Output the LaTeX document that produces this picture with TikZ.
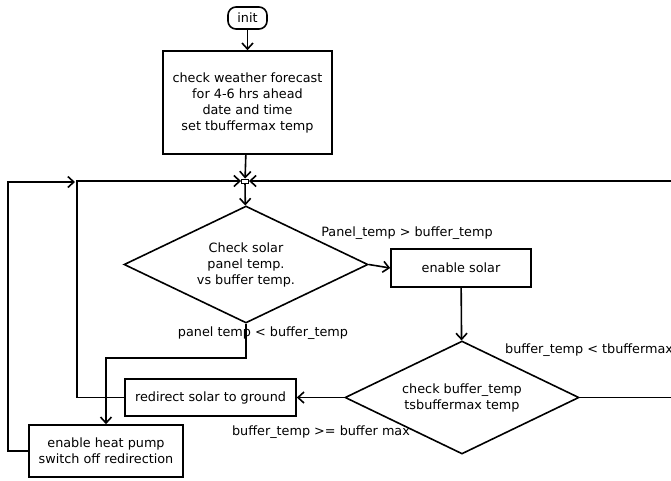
\documentclass[tikz,border=0pt]{standalone}
\usepackage{fontspec}
\setmainfont{DejaVu Sans}
\usepackage{tikz}
\usetikzlibrary{shapes, arrows.meta, calc, positioning}
\tikzset{
    x=1pt, y=-1pt,% pixel like coordinates, y grows downwards
    box/.style ={rectangle, draw, line width=1.6pt, align=center, inner sep=0pt},
    decision/.style ={diamond, aspect=2.1, draw, line width=1.6pt, align=center, inner sep=0pt},
    startnode/.style ={rectangle, rounded corners=8pt, draw, line width=1.6pt, minimum width=39pt, minimum height=22pt, inner sep=0pt},
    junc/.style ={rectangle, draw, line width=0.9pt, minimum width=7pt, minimum height=4pt, inner sep=0pt},
    flow/.style ={line width=1.6pt, -{Straight Barb[length=6pt,width=11pt,line width=1.6pt]}},
    lbl/.style ={inner sep=0pt}
}
\begin{document}
\begin{tikzpicture}[font=\fontsize{12.8}{16}\selectfont]
    \useasboundingbox (0,0) rectangle (671,480);
    \clip (0,0) rectangle (671,480);
    \node [startnode] (init) at (247.5,18) {init};
    \node [box, minimum width=169pt, minimum height=103pt] (forecast) at (247.5,102.5)
        {check weather forecast\\for 4-6 hrs ahead\\date and time\\set tbuffermax temp};
    \node [junc] (merge) at (245,181) {};
    \node [decision, minimum width=244pt, minimum height=117pt] (cmpsolar) at (246,264.5)
        {Check solar\\panel temp.\\vs buffer temp.};
    \node [box, minimum width=140pt, minimum height=38pt] (solar) at (461,268) {enable solar};
    \node [decision, minimum width=234pt, minimum height=113pt] (cmpbuffer) at (462,397.5)
        {check buffer\_temp\\tsbuffermax temp};
    \node [box, minimum width=171pt, minimum height=37pt] (redirect) at (210.5,397.5) {redirect solar to ground};
    \node [box, minimum width=154pt, minimum height=52pt] (heatpump) at (106,451)
        {enable heat pump\\switch off redirection};
    % edge labels
    \node [lbl] (lgt) at (407,233) {Panel\_temp > buffer\_temp};
    \node [lbl] (llt) at (263,333) {panel temp < buffer\_temp};
    \node [lbl, anchor=west] (lmaxlt) at (505,350) {buffer\_temp < tbuffermax};
    \node [lbl] (lmaxge) at (321,432) {buffer\_temp >= buffer max};
    \coordinate (outerend) at (75,182);
    % connectors
    \draw [flow] (init) -- (forecast);
    \draw [flow] (forecast) -- (merge);
    \draw [flow] (merge) -- (cmpsolar);
    \draw [flow] (cmpsolar.east) -- (solar.west);
    \draw [flow] (solar) -- (cmpbuffer);
    \draw [flow] (cmpbuffer.west) -- (redirect.east);
    \draw [flow] (cmpbuffer.east) -- (673,397.5) |- (merge.east);
    \draw [flow] (redirect.west) -| (77,181) -- (merge.west);
    \draw [flow] (cmpsolar.south) -- (246,358) -| (heatpump.north);
    \draw [flow] (heatpump.west) -| (8,182) -- (outerend);
\end{tikzpicture}
\end{document}
